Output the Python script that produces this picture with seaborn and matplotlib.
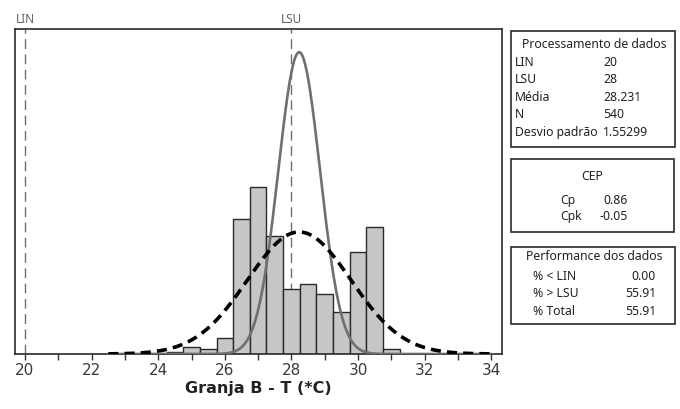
import matplotlib
matplotlib.use("Agg")
import matplotlib.pyplot as plt
import matplotlib.patches as mpatches
import numpy as np
import seaborn as sns

# histogram bins (bin width 0.5), counts
bin_centers = [24.5, 25.0, 25.5, 26.0, 26.5, 27.0, 27.5, 28.0, 28.5, 29.0, 29.5, 30.0, 30.5, 31.0]
bin_counts = [1, 4, 3, 9, 77, 95, 67, 37, 40, 34, 24, 58, 72, 3]

# process stats shown in the side boxes
lin, lsu = 20, 28
media = 28.231
n_obs = 540
desvio = 1.55299
desvio_within = 0.628  # estimated from the narrow solid curve
cp, cpk = 0.86, -0.05
pct_lin, pct_lsu, pct_total = 0.00, 55.91, 55.91

x_ticks = [20, 22, 24, 26, 28, 30, 32, 34]
x_label = "Granja B - T (*C)"

sns.set_theme(style="ticks")
plt.rcParams["font.family"] = ["DejaVu Sans"]

W, H = 680, 410
fig = plt.figure(figsize=(6.8, 4.1), dpi=100)
ax = fig.add_axes([15 / W, 1 - 355 / H, (502 - 15) / W, (355 - 30) / H])

binw = 0.5
sns.histplot(
    x=bin_centers, weights=bin_counts, binwidth=binw, binrange=(24.25, 31.25),
    color="#c6c6c6", edgecolor="#2a2a2a", linewidth=1.0, alpha=1, ax=ax, zorder=2,
)

xs = np.linspace(22.5, 34.0, 500)
scale = n_obs * binw
y_over = scale * np.exp(-0.5 * ((xs - media) / desvio) ** 2) / (desvio * np.sqrt(2 * np.pi))
y_within = scale * np.exp(-0.5 * ((xs - media) / desvio_within) ** 2) / (desvio_within * np.sqrt(2 * np.pi))
ax.plot(xs, y_within, color="#707070", lw=1.9, zorder=3)
ax.plot(xs, y_over, color="black", lw=2.6, linestyle=(0, (2.8, 1.7)), zorder=4)

for v, name in [(lin, "LIN"), (lsu, "LSU")]:
    ax.axvline(v, color="#707070", lw=1.0, linestyle=(0, (7, 4)), zorder=1)
    ax.text(v, 1.012, name, transform=ax.get_xaxis_transform(), ha="center", va="bottom",
            fontsize=8.5, color="#666666", family="Noto Sans")

ax.set_xlim(19.7, 34.32)
ax.set_ylim(0, 184.7)
ax.set_xticks(x_ticks)
ax.set_xticks(range(20, 35), minor=True)
ax.set_yticks([])
ax.set_ylabel("")
ax.tick_params(axis="x", which="both", direction="out", length=4, width=1, color="#333333",
               labelsize=11, labelcolor="#3a3a3a", pad=2)
for s in ax.spines.values():
    s.set_color("#2a2a2a")
    s.set_linewidth(1.2)
ax.set_xlabel(x_label, fontsize=11.5, fontweight="bold", color="#222222", labelpad=2)


def box(x0, y0, x1, y1):
    fig.patches.append(mpatches.Rectangle(
        (x0 / W, 1 - y1 / H), (x1 - x0) / W, (y1 - y0) / H,
        transform=fig.transFigure, fill=False, edgecolor="#2a2a2a", lw=1.2))


def txt(x, y, s, ha="left"):
    fig.text(x / W, 1 - y / H, s, ha=ha, va="center", fontsize=8.8, color="#222222",
             family="Noto Sans")


# box 1: data summary
box(511, 32, 675, 148)
txt(594, 45, "Processamento de dados", ha="center")
rows = [("LIN", f"{lin}"), ("LSU", f"{lsu}"), ("Média", f"{media}"),
        ("N", f"{n_obs}"), ("Desvio padrão", f"{desvio}")]
for i, (k, v) in enumerate(rows):
    y = 62 + i * 17.6
    txt(515, y, k)
    txt(603, y, v)

# box 2: capability
box(511, 160, 674, 233)
txt(592, 177, "CEP", ha="center")
txt(560, 201, "Cp")
txt(628, 201, f"{cp:.2f}", ha="right")
txt(560, 217, "Cpk")
txt(628, 217, f"{cpk:.2f}", ha="right")

# box 3: performance
box(511, 248, 675, 325)
txt(594, 257, "Performance dos dados", ha="center")
perf = [("% < LIN", pct_lin), ("% > LSU", pct_lsu), ("% Total", pct_total)]
for i, (k, v) in enumerate(perf):
    y = 276 + i * 18
    txt(533, y, k)
    txt(656, y, f"{v:.2f}", ha="right")

fig.savefig("out.png", dpi=100, facecolor="white")
